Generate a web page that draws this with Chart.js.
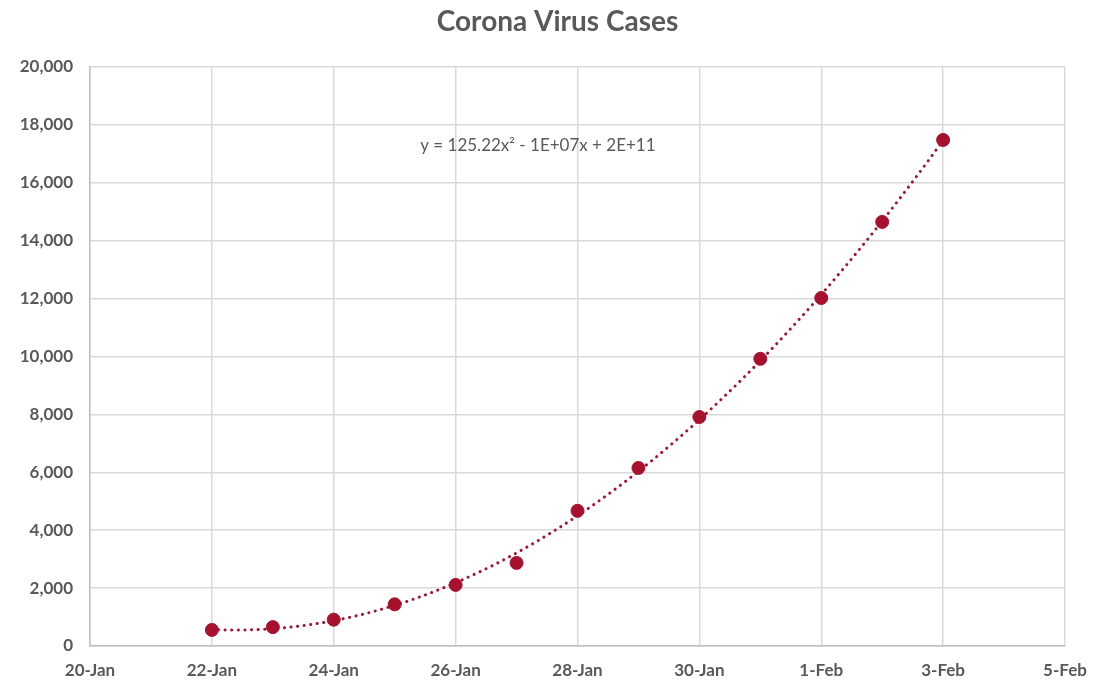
<!DOCTYPE html>
<html>
<head>
<meta charset="utf-8">
<script src="https://cdn.jsdelivr.net/npm/chart.js@4"></script>
<style>
    html, body { margin: 0; padding: 0; background: #fff; }
    #wrap { width: 1105px; height: 684px; position: relative; }
</style>
</head>
<body>
<div id="wrap"><canvas id="casesChart"></canvas></div>
<script>
// Days counted from 20-Jan
const dayIndex = [2, 3, 4, 5, 6, 7, 8, 9, 10, 11, 12, 13, 14];
const dateLabels = ['22-Jan', '23-Jan', '24-Jan', '25-Jan', '26-Jan', '27-Jan', '28-Jan', '29-Jan', '30-Jan', '31-Jan', '1-Feb', '2-Feb', '3-Feb'];
const cases = [555, 653, 910, 1440, 2110, 2870, 4670, 6150, 7910, 9920, 12020, 14650, 17480];
const xTickLabels = ['20-Jan', '22-Jan', '24-Jan', '26-Jan', '28-Jan', '30-Jan', '1-Feb', '3-Feb', '5-Feb'];
const chartTitle = 'Corona Virus Cases';
const trendLabel = 'y = 125.22x² - 1E+07x + 2E+11';

const RED = '#a8112e';
const GRID = '#d9d9d9';
const TEXT = '#595959';
const FONT = 'Lato, "Open Sans", sans-serif';

// Quadratic least-squares trendline, like the spreadsheet one
function fitQuadratic(xs, ys) {
    let s = [0, 0, 0, 0, 0], t = [0, 0, 0];
    xs.forEach((x, i) => {
        for (let k = 0; k < 5; k++) s[k] += Math.pow(x, k);
        for (let k = 0; k < 3; k++) t[k] += ys[i] * Math.pow(x, k);
    });
    // normal equations, solve 3x3 with Cramer
    const M = [[s[0], s[1], s[2]], [s[1], s[2], s[3]], [s[2], s[3], s[4]]];
    const det = m => m[0][0] * (m[1][1] * m[2][2] - m[1][2] * m[2][1])
        - m[0][1] * (m[1][0] * m[2][2] - m[1][2] * m[2][0])
        + m[0][2] * (m[1][0] * m[2][1] - m[1][1] * m[2][0]);
    const D = det(M);
    const coef = [0, 1, 2].map(c => det(M.map((row, r) => row.map((v, j) => j === c ? t[r] : v))) / D);
    return x => coef[0] + coef[1] * x + coef[2] * x * x;
}

const trendFn = fitQuadratic(dayIndex, cases);
const trendPoints = [];
for (let x = dayIndex[0]; x <= dayIndex[dayIndex.length - 1] + 1e-9; x += 0.1) {
    trendPoints.push({ x: x, y: trendFn(x) });
}

// Title centred on the whole canvas + trendline equation
const textPlugin = {
    id: 'texts',
    afterDatasetsDraw(chart) {
        const ctx = chart.ctx;
        ctx.save();
        ctx.fillStyle = TEXT;
        ctx.textAlign = 'center';
        ctx.textBaseline = 'middle';

        ctx.font = 'bold 28px ' + FONT;
        ctx.fillText(chartTitle, chart.width / 2 + 5, 22);

        const px = chart.scales.x.getPixelForValue(7.35);
        const py = chart.scales.y.getPixelForValue(17300);
        ctx.font = '17px ' + FONT;
        ctx.fillText(trendLabel, px, py);
        ctx.restore();
    }
};

const ctx = document.getElementById('casesChart').getContext('2d');
new Chart(ctx, {
    type: 'scatter',
    data: {
        datasets: [{
            label: 'Cases',
            data: dayIndex.map((d, i) => ({ x: d, y: cases[i] })),
            backgroundColor: RED,
            borderColor: RED,
            pointRadius: 6.5,
            order: 1
        }, {
            label: 'Trend',
            type: 'line',
            data: trendPoints,
            borderColor: RED,
            borderWidth: 3,
            borderDash: [0.1, 6.5],
            borderCapStyle: 'round',
            pointRadius: 0,
            fill: false,
            tension: 0,
            order: 2
        }]
    },
    options: {
        responsive: true,
        maintainAspectRatio: false,
        animation: false,
        layout: { padding: { left: 0, right: 40, top: 67, bottom: 0 } },
        plugins: {
            legend: { display: false },
            tooltip: { enabled: false },
            title: { display: false }
        },
        scales: {
            x: {
                type: 'linear',
                min: 0,
                max: 16,
                ticks: {
                    stepSize: 2,
                    color: TEXT,
                    font: { family: FONT, size: 17, weight: 'bold' },
                    padding: 14,
                    maxRotation: 0,
                    callback: (v) => xTickLabels[v / 2]
                },
                grid: { color: GRID, lineWidth: 1.5, drawTicks: false },
                border: { color: '#bfbfbf', width: 1.5 },
                afterFit: (scale) => { scale.height = 38; }
            },
            y: {
                min: 0,
                max: 20000,
                ticks: {
                    stepSize: 2000,
                    color: TEXT,
                    font: { family: FONT, size: 17, weight: 'bold' },
                    padding: 17,
                    callback: (v) => v.toLocaleString('en-US')
                },
                grid: { color: GRID, lineWidth: 1.5, drawTicks: false },
                border: { color: '#bfbfbf', width: 1.5 },
                afterFit: (scale) => { scale.width = 90; }
            }
        }
    },
    plugins: [textPlugin]
});
</script>
</body>
</html>
